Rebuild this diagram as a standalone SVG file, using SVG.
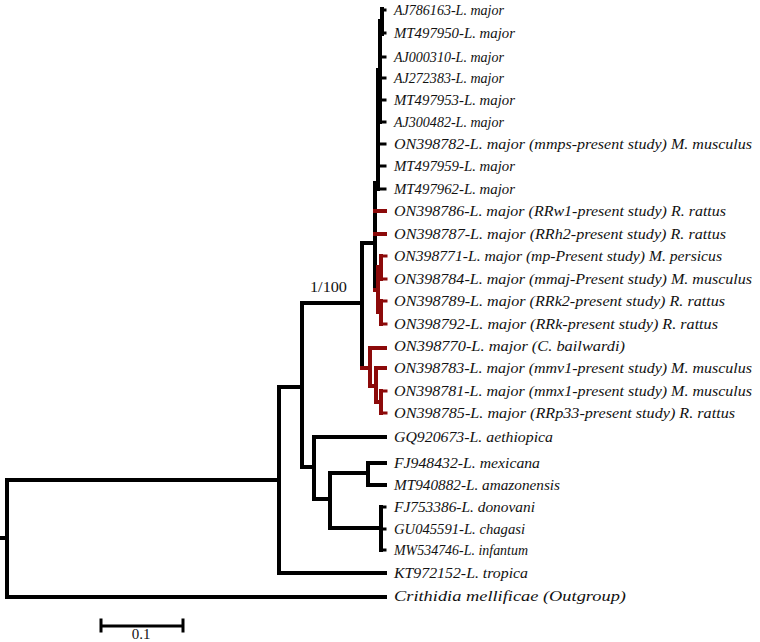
<svg xmlns="http://www.w3.org/2000/svg" width="760" height="642" viewBox="0 0 760 642">
<style>
.b{fill:none;stroke:#000;stroke-width:4;stroke-linecap:square}
.r{fill:none;stroke:#8c0a0a;stroke-width:4;stroke-linecap:square}
.t{stroke-width:3}
text{font-family:"Liberation Serif","Times New Roman",serif;font-size:15px;fill:#111}
.lf text{font-style:italic;font-size:15.5px}
</style>
<rect width="760" height="642" fill="#fff"/>
<g id="connectors">
<path class="b" d="M0 538H7M7 480V597M7 480H279M7 597H385"/>
<path class="b" d="M279 387V573M279 573H385M279 387H302"/>
<path class="b" d="M302 303V467M302 303H362M302 467H314"/>
<path class="b" d="M362 243V368M362 243H375"/>
<path class="r" d="M362 368H370"/>
<path class="b" d="M314 437V499M314 437H385M314 499H330"/>
<path class="b" d="M330 473V528M330 473H368M330 528H381"/>
<path class="b" d="M368 463V485M368 463H385M368 485H385"/>
<path class="b" d="M381 507V550"/>
<path class="b t" d="M381 507H385M381 529H385M381 550H385"/>
<path class="b" d="M375 183V290M375 183H378"/>
<path class="b" d="M378 70V189M380 21V122M382 9V34"/>
<path class="b t" d="M382 10H385M382 33H385M380 57H385M380 78H385M380 100H385M380 122H385M378 144H385M378 166H385M378 189H385"/>
<path class="r" d="M375 211H385M375 234H385"/>
<path class="r" d="M375 290H378M378 267V312M378 267H381M378 312H381M381 256V279M381 301V324"/>
<path class="r t" d="M381 256H386M381 279H386M381 301H386M381 324H386"/>
<path class="r" d="M370 348V386M370 348H385M370 386H376M376 368V402M376 368H385M376 402H381M381 391V413"/>
<path class="r t" d="M381 391H386M381 413H386"/>
<path class="b t" d="M101 626H183M101 620V631M183 620V631"/>
</g>
<g id="labels">
<text x="310" y="292" textLength="37" lengthAdjust="spacingAndGlyphs">1/100</text>
<text x="141" y="639" text-anchor="middle" font-size="14">0.1</text>
</g>
<g class="lf">
<g id="n-AJ786163"><text x="394" y="15" textLength="110" lengthAdjust="spacingAndGlyphs">AJ786163-L. major</text></g>
<g id="n-MT497950"><text x="394" y="38" textLength="121" lengthAdjust="spacingAndGlyphs">MT497950-L. major</text></g>
<g id="n-AJ000310"><text x="394" y="62" textLength="110" lengthAdjust="spacingAndGlyphs">AJ000310-L. major</text></g>
<g id="n-AJ272383"><text x="394" y="83" textLength="110" lengthAdjust="spacingAndGlyphs">AJ272383-L. major</text></g>
<g id="n-MT497953"><text x="394" y="105" textLength="121" lengthAdjust="spacingAndGlyphs">MT497953-L. major</text></g>
<g id="n-AJ300482"><text x="394" y="127" textLength="110" lengthAdjust="spacingAndGlyphs">AJ300482-L. major</text></g>
<g id="n-ON398782"><text x="394" y="149" textLength="358" lengthAdjust="spacingAndGlyphs">ON398782-L. major (mmps-present study) M. musculus</text></g>
<g id="n-MT497959"><text x="394" y="171" textLength="121" lengthAdjust="spacingAndGlyphs">MT497959-L. major</text></g>
<g id="n-MT497962"><text x="394" y="194" textLength="121" lengthAdjust="spacingAndGlyphs">MT497962-L. major</text></g>
<g id="n-ON398786"><text x="394" y="216" textLength="332" lengthAdjust="spacingAndGlyphs">ON398786-L. major (RRw1-present study) R. rattus</text></g>
<g id="n-ON398787"><text x="394" y="239" textLength="332" lengthAdjust="spacingAndGlyphs">ON398787-L. major (RRh2-present study) R. rattus</text></g>
<g id="n-ON398771"><text x="394" y="261" textLength="328" lengthAdjust="spacingAndGlyphs">ON398771-L. major (mp-Present study) M. persicus</text></g>
<g id="n-ON398784"><text x="394" y="284" textLength="358" lengthAdjust="spacingAndGlyphs">ON398784-L. major (mmaj-Present study) M. musculus</text></g>
<g id="n-ON398789"><text x="394" y="306" textLength="331" lengthAdjust="spacingAndGlyphs">ON398789-L. major (RRk2-present study) R. rattus</text></g>
<g id="n-ON398792"><text x="394" y="329" textLength="324" lengthAdjust="spacingAndGlyphs">ON398792-L. major (RRk-present study) R. rattus</text></g>
<g id="n-ON398770"><text x="394" y="351" textLength="231" lengthAdjust="spacingAndGlyphs">ON398770-L. major (C. bailwardi)</text></g>
<g id="n-ON398783"><text x="394" y="373" textLength="358" lengthAdjust="spacingAndGlyphs">ON398783-L. major (mmv1-present study) M. musculus</text></g>
<g id="n-ON398781"><text x="394" y="396" textLength="358" lengthAdjust="spacingAndGlyphs">ON398781-L. major (mmx1-present study) M. musculus</text></g>
<g id="n-ON398785"><text x="394" y="418" textLength="341" lengthAdjust="spacingAndGlyphs">ON398785-L. major (RRp33-present study) R. rattus</text></g>
<g id="n-GQ920673"><text x="394" y="442" textLength="159" lengthAdjust="spacingAndGlyphs">GQ920673-L. aethiopica</text></g>
<g id="n-FJ948432"><text x="394" y="468" textLength="146" lengthAdjust="spacingAndGlyphs">FJ948432-L. mexicana</text></g>
<g id="n-MT940882"><text x="394" y="490" textLength="166" lengthAdjust="spacingAndGlyphs">MT940882-L. amazonensis</text></g>
<g id="n-FJ753386"><text x="394" y="512" textLength="141" lengthAdjust="spacingAndGlyphs">FJ753386-L. donovani</text></g>
<g id="n-GU045591"><text x="394" y="534" textLength="131" lengthAdjust="spacingAndGlyphs">GU045591-L. chagasi</text></g>
<g id="n-MW534746"><text x="394" y="555" textLength="134" lengthAdjust="spacingAndGlyphs">MW534746-L. infantum</text></g>
<g id="n-KT972152"><text x="394" y="578" textLength="134" lengthAdjust="spacingAndGlyphs">KT972152-L. tropica</text></g>
<g id="n-Crithidia"><text x="394" y="601" textLength="232" lengthAdjust="spacingAndGlyphs">Crithidia mellificae (Outgroup)</text></g>
</g>
</svg>
